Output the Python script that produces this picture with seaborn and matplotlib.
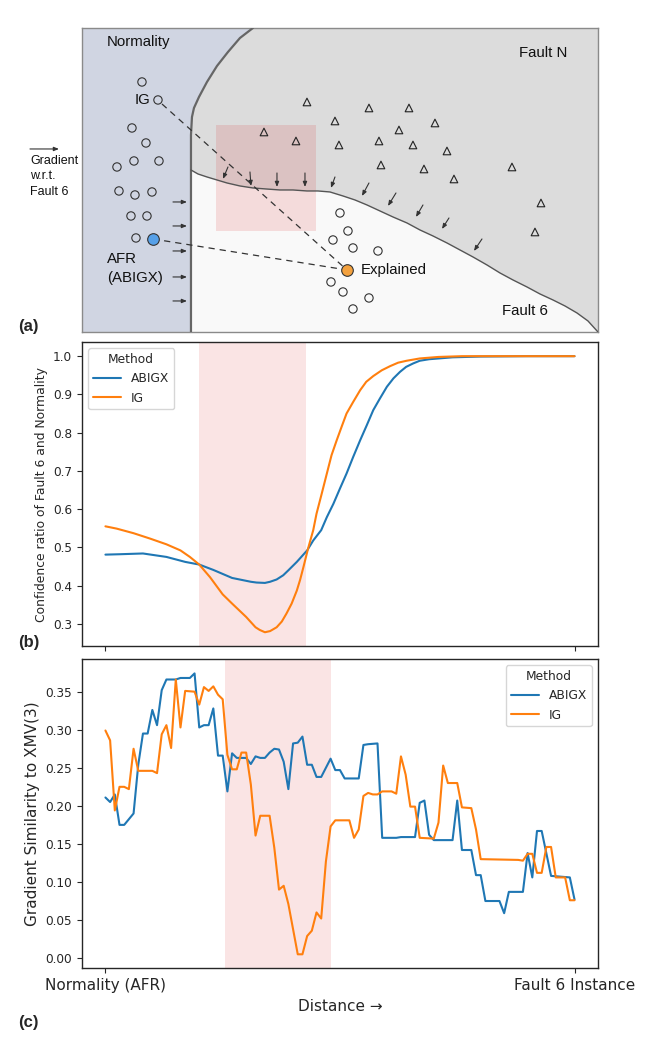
import matplotlib
matplotlib.use("Agg")
import numpy as np
import pandas as pd
import matplotlib.pyplot as plt
import seaborn as sns
from matplotlib.patches import Rectangle

sns.set_style("ticks")
plt.rcParams["font.family"] = ["DejaVu Sans"]

# --- (b) confidence ratio along the path ---
conf_abigx_x = [0, 3, 8, 13, 17, 20, 23, 27, 31, 32.2, 34, 35.1, 36.5, 37.9, 39, 40.8, 43,
                44.3, 46, 47.2, 48.6, 50, 51.4, 52.8, 54.3, 55.7, 57.1, 58.5, 60, 61.4, 62.8,
                64.1, 65.6, 67, 69, 74, 80, 90, 100]
conf_abigx_y = [0.481, 0.482, 0.484, 0.475, 0.462, 0.455, 0.441, 0.420, 0.410, 0.408, 0.407,
                0.410, 0.416, 0.427, 0.440, 0.462, 0.492, 0.518, 0.545, 0.579, 0.614, 0.654,
                0.693, 0.736, 0.780, 0.819, 0.859, 0.889, 0.920, 0.942, 0.959, 0.972, 0.981,
                0.988, 0.992, 0.997, 0.999, 1.0, 1.0]
conf_ig_x = [0, 2.4, 6, 9.5, 13, 16, 18, 20, 22.3, 25, 27, 30, 32, 32.9, 34, 35.1, 36.5, 37.6,
             38.6, 39.7, 40.8, 41.5, 42.2, 43.2, 44.3, 45, 46.1, 47.2, 48.2, 49.3, 50.4, 51.4,
             52.8, 54.3, 55.6, 57.1, 58.9, 60.7, 62.4, 64.2, 67, 71, 76, 85, 100]
conf_ig_y = [0.555, 0.549, 0.537, 0.523, 0.508, 0.492, 0.475, 0.455, 0.422, 0.377, 0.353,
             0.318, 0.291, 0.284, 0.278, 0.281, 0.291, 0.306, 0.327, 0.353, 0.387, 0.415,
             0.448, 0.497, 0.545, 0.588, 0.640, 0.693, 0.741, 0.780, 0.817, 0.850, 0.880,
             0.911, 0.933, 0.948, 0.963, 0.974, 0.983, 0.988, 0.994, 0.998, 1.0, 1.0, 1.0]

# --- (c) gradient similarity to XMV(3) ---
sim_abigx_x = [0, 1, 2, 3, 4, 6, 7, 8, 9, 10, 11, 12, 13, 15, 16, 18, 19, 20, 21, 22, 23, 24,
               25, 26, 27, 28, 30, 31, 32, 33, 34, 35, 36, 37, 38, 39, 40, 41, 42, 43, 44, 45,
               46, 48, 49, 50, 51, 54, 55, 56, 58, 59, 62, 63, 66, 67, 68, 69, 70, 74, 75, 76,
               78, 79, 80, 81, 84, 85, 86, 89, 90, 91, 92, 93, 95, 99, 100]
sim_abigx_y = [0.211, 0.205, 0.215, 0.175, 0.175, 0.190, 0.254, 0.295, 0.295, 0.326, 0.306,
               0.352, 0.366, 0.366, 0.368, 0.368, 0.374, 0.303, 0.306, 0.306, 0.328, 0.266,
               0.266, 0.219, 0.269, 0.263, 0.263, 0.255, 0.265, 0.263, 0.263, 0.270, 0.275,
               0.274, 0.258, 0.222, 0.282, 0.283, 0.291, 0.254, 0.254, 0.238, 0.238, 0.262,
               0.247, 0.247, 0.236, 0.236, 0.280, 0.281, 0.282, 0.158, 0.158, 0.159, 0.159,
               0.204, 0.207, 0.162, 0.155, 0.155, 0.207, 0.142, 0.142, 0.109, 0.109, 0.075,
               0.075, 0.059, 0.087, 0.087, 0.138, 0.106, 0.167, 0.167, 0.108, 0.106, 0.077]
sim_ig_x = [0, 1, 2, 3, 4, 5, 6, 7, 10, 11, 12, 13, 14, 15, 16, 17, 19, 20, 21, 22, 23, 24, 25,
            26, 27, 28, 29, 30, 31, 32, 33, 35, 36, 37, 38, 39, 41, 42, 43, 44, 45, 46, 47, 48,
            49, 52, 53, 54, 55, 56, 57, 58, 59, 61, 62, 63, 64, 65, 66, 67, 70, 71, 72, 73, 75,
            76, 78, 79, 80, 88, 89, 90, 91, 92, 93, 94, 95, 96, 98, 99, 100]
sim_ig_y = [0.299, 0.286, 0.194, 0.225, 0.225, 0.222, 0.275, 0.246, 0.246, 0.243, 0.294,
            0.306, 0.276, 0.366, 0.303, 0.351, 0.350, 0.333, 0.356, 0.351, 0.357, 0.346,
            0.340, 0.267, 0.248, 0.248, 0.270, 0.270, 0.228, 0.161, 0.187, 0.187, 0.145,
            0.090, 0.095, 0.071, 0.005, 0.005, 0.029, 0.036, 0.060, 0.052, 0.127, 0.173,
            0.181, 0.181, 0.158, 0.169, 0.213, 0.217, 0.215, 0.215, 0.219, 0.219, 0.216,
            0.265, 0.241, 0.199, 0.199, 0.158, 0.157, 0.178, 0.253, 0.230, 0.230, 0.198,
            0.197, 0.169, 0.130, 0.129, 0.128, 0.137, 0.137, 0.112, 0.112, 0.146, 0.146,
            0.106, 0.106, 0.076, 0.076]

span_b = [19.9, 42.7]
span_c = [25.4, 48.0]
x_ends = [0, 100]
x_end_labels = ["Normality (AFR)", "Fault 6 Instance"]

# --- (a) schematic, in picture pixel coordinates ---
norm_bx = [253, 240, 228, 217, 207, 199, 194, 192, 191, 191]
norm_by = [28, 38, 52, 66, 82, 97, 108, 117, 135, 332]
f6_bx = [191, 198, 207, 217, 227, 240, 253, 266, 280, 293, 307, 318, 330, 343, 355, 367, 380,
         393, 407, 420, 433, 447, 460, 473, 487, 500, 513, 527, 540, 553, 565, 577, 588, 598]
f6_by = [170, 174, 177, 180, 183, 186, 188, 189, 190, 190, 191, 191, 192, 196, 200, 205, 211,
         217, 223, 230, 236, 243, 250, 257, 265, 273, 280, 287, 294, 300, 306, 313, 321, 332]
tri_x = [307, 264, 296, 369, 409, 335, 435, 399, 339, 379, 413, 447, 381, 424, 512, 454, 541, 535]
tri_y = [102, 132, 141, 108, 108, 121, 123, 130, 145, 141, 145, 151, 165, 169, 167, 179, 203, 232]
circ_x = [142, 158, 132, 146, 117, 134, 159, 119, 135, 152, 131, 147, 136,
          340, 348, 333, 353, 378, 331, 343, 369, 353]
circ_y = [82, 100, 128, 143, 167, 161, 161, 191, 195, 192, 216, 216, 238,
          213, 231, 240, 248, 251, 282, 292, 298, 309]
afr_pt = (153, 239)
ig_pt = (162, 104)
explained_pt = (347, 270)
right_arrow_y = [202, 226, 251, 277, 301]
down_arrows = [((228, 167), (223, 179)), ((250, 172), (251, 186)), ((277, 173), (277, 187)),
               ((305, 173), (305, 187)), ((335, 177), (331, 188)), ((369, 183), (362, 196)),
               ((396, 193), (388, 206)), ((423, 205), (416, 217)), ((449, 218), (442, 229)),
               ((482, 239), (474, 251))]

palette = {"ABIGX": "#1f77b4", "IG": "#ff7f0e"}
SCH_FONT = ["Liberation Sans", "DejaVu Sans"]

fig = plt.figure(figsize=(6.48, 10.4), dpi=100)
ax_a = fig.add_axes([0.1265, 0.6808, 0.7963, 0.2923])
ax_b = fig.add_axes([0.1265, 0.3788, 0.7963, 0.2920])
ax_c = fig.add_axes([0.1265, 0.0689, 0.7963, 0.2971])

# ---------------- (a) ----------------
ax_a.set_xlim(82, 598)
ax_a.set_ylim(332, 28)
ax_a.set_xticks([])
ax_a.set_yticks([])
for s in ax_a.spines.values():
    s.set_color("#8a8a8a")
    s.set_linewidth(1.0)
ax_a.add_patch(Rectangle((82, 28), 516, 304, fc="#dcdcdc", lw=0, zorder=0))
ax_a.fill(f6_bx + [191], f6_by + [332], color="#f9f9f9", lw=0, zorder=1)
ax_a.fill([82] + norm_bx + [82], [28] + norm_by + [332], color="#d0d5e2", lw=0, zorder=2)
ax_a.add_patch(Rectangle((216, 125), 100, 106, fc="#d62728", alpha=0.14, lw=0, zorder=2.5))
ax_a.plot(norm_bx, norm_by, color="#666666", lw=1.6, zorder=3)
ax_a.plot(f6_bx, f6_by, color="#555555", lw=1.0, zorder=3)

dash = (0, (5, 4))
ax_a.plot([ig_pt[0], explained_pt[0]], [ig_pt[1], explained_pt[1]], ls=dash, color="#333333", lw=0.9, zorder=4)
ax_a.plot([afr_pt[0], explained_pt[0]], [afr_pt[1], explained_pt[1]], ls=dash, color="#333333", lw=0.9, zorder=4)

ax_a.scatter(tri_x, tri_y, marker="^", s=30, facecolors="none", edgecolors="#222222", linewidths=0.8, zorder=5)
ax_a.scatter(circ_x, circ_y, marker="o", s=36, facecolors="none", edgecolors="#333333", linewidths=0.8, zorder=5)
ax_a.scatter([afr_pt[0]], [afr_pt[1]], s=70, color="#56a0e8", edgecolors="#333333", linewidths=0.8, zorder=6)
ax_a.scatter([explained_pt[0]], [explained_pt[1]], s=70, color="#f3a13e", edgecolors="#333333", linewidths=0.8, zorder=6)

arrow_kw = dict(arrowstyle="-|>,head_length=0.3,head_width=0.12", color="#333333", lw=0.8,
                shrinkA=0, shrinkB=0)
for y in right_arrow_y:
    ax_a.annotate("", xy=(187, y), xytext=(173, y), arrowprops=arrow_kw, zorder=6)
for start, end in down_arrows:
    ax_a.annotate("", xy=end, xytext=start, arrowprops=arrow_kw, zorder=6)
ax_a.annotate("", xy=(59, 149), xytext=(30, 149), arrowprops=arrow_kw, annotation_clip=False)

tk = dict(family=SCH_FONT, fontsize=10.8, color="#111111", zorder=7)
ax_a.text(107, 42, "Normality", ha="left", va="center", **tk)
ax_a.text(150, 100, "IG", ha="right", va="center", **tk)
ax_a.text(107, 259, "AFR", ha="left", va="center", **tk)
ax_a.text(107, 278, "(ABIGX)", ha="left", va="center", **tk)
ax_a.text(519, 53, "Fault N", ha="left", va="center", **tk)
ax_a.text(502, 311, "Fault 6", ha="left", va="center", **tk)
ax_a.text(361, 270, "Explained", ha="left", va="center", **tk)
for txt, y in zip(["Gradient", "w.r.t.", "Fault 6"], [161, 176, 192]):
    ax_a.text(30, y, txt, ha="left", va="center", family=SCH_FONT, fontsize=9, color="#111111")

# ---------------- (b) ----------------
conf_df = pd.concat([
    pd.DataFrame({"Distance": conf_abigx_x, "value": conf_abigx_y, "Method": "ABIGX"}),
    pd.DataFrame({"Distance": conf_ig_x, "value": conf_ig_y, "Method": "IG"}),
])
ax_b.axvspan(span_b[0], span_b[1], color="#d62728", alpha=0.12, lw=0, zorder=0)
sns.lineplot(data=conf_df, x="Distance", y="value", hue="Method", palette=palette,
             linewidth=1.5, ax=ax_b)
ax_b.set_xticks(x_ends)
ax_b.set_xticklabels(["", ""])
ax_b.set_xlabel("")
ax_b.set_ylabel("Confidence ratio of Fault 6 and Normality", fontsize=8.9)
ax_b.set_yticks([0.3, 0.4, 0.5, 0.6, 0.7, 0.8, 0.9, 1.0])
ax_b.tick_params(labelsize=8.7)
sns.move_legend(ax_b, "upper left", title="Method", fontsize=8.8, title_fontsize=8.8,
                frameon=True, handlelength=2.3)

# ---------------- (c) ----------------
sim_df = pd.concat([
    pd.DataFrame({"Distance": sim_abigx_x, "value": sim_abigx_y, "Method": "ABIGX"}),
    pd.DataFrame({"Distance": sim_ig_x, "value": sim_ig_y, "Method": "IG"}),
])
ax_c.axvspan(span_c[0], span_c[1], color="#d62728", alpha=0.12, lw=0, zorder=0)
sns.lineplot(data=sim_df, x="Distance", y="value", hue="Method", palette=palette,
             linewidth=1.5, ax=ax_c)
ax_c.set_xticks(x_ends)
ax_c.set_xticklabels(x_end_labels, fontsize=11)
ax_c.set_xlabel("Distance \u2192", fontsize=11)
ax_c.set_ylabel("Gradient Similarity to XMV(3)", fontsize=11)
ax_c.tick_params(axis="y", labelsize=8.7)
sns.move_legend(ax_c, "upper right", title="Method", fontsize=8.8, title_fontsize=8.8,
                frameon=True, handlelength=2.3)

for ax in (ax_b, ax_c):
    for s in ax.spines.values():
        s.set_color("#262626")
        s.set_linewidth(1.0)

# panel letters
for lab, y in zip(["(a)", "(b)", "(c)"], [327, 643, 1022]):
    fig.text(18 / 648, 1 - y / 1040, lab, ha="left", va="center", fontsize=12,
             fontweight="bold", family=SCH_FONT)

fig.savefig("out.png", dpi=100)
